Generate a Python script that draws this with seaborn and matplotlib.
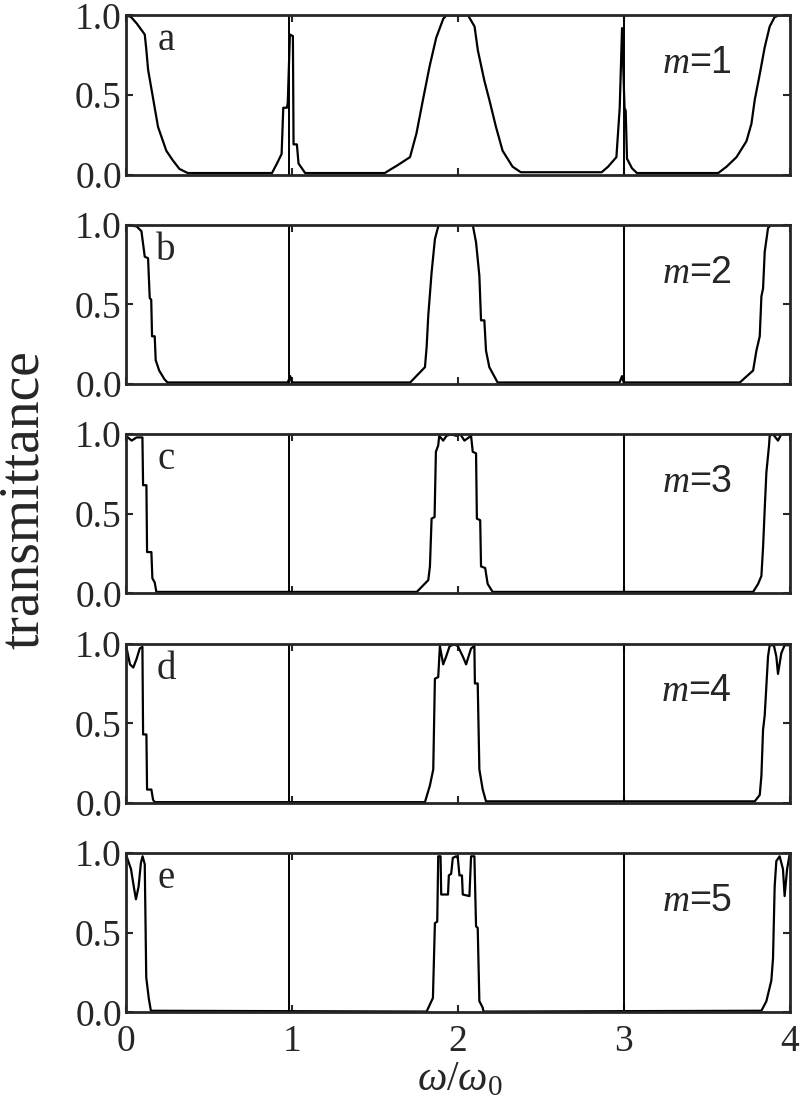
import matplotlib
matplotlib.use("Agg")
import matplotlib.pyplot as plt
import seaborn as sns
import pandas as pd

# frequency (omega/omega0) and transmittance
omega_a = [0, 0.03, 0.064, 0.113, 0.123, 0.133, 0.153, 0.173, 0.193, 0.223, 0.243, 0.282, 0.322, 0.372,
           0.88, 0.91, 0.938, 0.948, 0.97, 0.975, 0.988, 1.006, 1.01, 1.03, 1.04, 1.08,
           1.56, 1.60, 1.634, 1.712, 1.751, 1.79, 1.83, 1.87, 1.913, 1.932, 2.062, 2.101, 2.121, 2.16, 2.19,
           2.23, 2.27, 2.33, 2.38, 2.867, 2.906, 2.956, 2.976, 2.99, 3.005, 3.012, 3.02, 3.05, 3.08,
           3.57, 3.62, 3.68, 3.74, 3.77, 3.79, 3.82, 3.85, 3.88, 3.91, 3.94, 4.0]
trans_a = [1.0, 0.99, 0.95, 0.88, 0.78, 0.66, 0.54, 0.42, 0.30, 0.21, 0.15, 0.09, 0.036, 0.01,
           0.01, 0.07, 0.13, 0.42, 0.42, 0.45, 0.88, 0.87, 0.19, 0.19, 0.07, 0.01,
           0.01, 0.036, 0.057, 0.11, 0.26, 0.47, 0.68, 0.86, 0.98, 1.0, 1.0, 0.93, 0.78, 0.59, 0.47,
           0.30, 0.15, 0.05, 0.015, 0.015, 0.05, 0.11, 0.42, 0.92, 0.42, 0.40, 0.10, 0.04, 0.01,
           0.01, 0.05, 0.11, 0.21, 0.32, 0.47, 0.63, 0.80, 0.93, 0.99, 1.0, 1.0]

omega_b = [0, 0.064, 0.093, 0.113, 0.133, 0.143, 0.152, 0.157, 0.173, 0.179, 0.20, 0.232, 0.25,
           0.975, 0.99, 1.0, 1.713, 1.802, 1.812, 1.822, 1.842, 1.862, 1.882, 1.888, 2.09, 2.11,
           2.13, 2.14, 2.16, 2.17, 2.19, 2.24, 2.975, 2.99, 3.0, 3.70, 3.78, 3.80, 3.82, 3.83,
           3.84, 3.85, 3.87, 3.89, 4.0]
trans_b = [1.0, 0.99, 0.96, 0.80, 0.79, 0.54, 0.53, 0.30, 0.30, 0.15, 0.085, 0.03, 0.01,
           0.01, 0.05, 0.01, 0.01, 0.106, 0.23, 0.43, 0.70, 0.91, 0.99, 1.0, 1.0, 0.89,
           0.68, 0.40, 0.40, 0.21, 0.106, 0.01, 0.01, 0.05, 0.01, 0.01, 0.085, 0.21, 0.30, 0.55,
           0.60, 0.83, 0.98, 1.0, 1.0]

omega_c = [0, 0.034, 0.064, 0.099, 0.103, 0.123, 0.127, 0.153, 0.159, 0.173, 0.183,
           1.753, 1.822, 1.832, 1.842, 1.86, 1.868, 1.882, 1.888, 1.912, 1.932, 1.96, 1.99, 2.015,
           2.04, 2.08, 2.09, 2.11, 2.115, 2.135, 2.14, 2.165, 2.18, 2.21,
           3.78, 3.81, 3.83, 3.84, 3.85, 3.86, 3.876, 3.88, 3.90, 3.93, 3.95, 4.0]
trans_c = [0.99, 0.96, 0.98, 0.98, 0.68, 0.68, 0.26, 0.26, 0.095, 0.07, 0.01,
           0.01, 0.084, 0.17, 0.47, 0.48, 0.89, 0.93, 0.99, 0.96, 0.99, 1.0, 0.99, 1.0,
           0.96, 0.99, 0.89, 0.88, 0.47, 0.46, 0.17, 0.16, 0.06, 0.01,
           0.01, 0.06, 0.11, 0.29, 0.53, 0.76, 0.93, 0.99, 1.0, 0.96, 1.0, 1.0]

omega_d = [0, 0.024, 0.044, 0.064, 0.083, 0.099, 0.103, 0.123, 0.127, 0.153, 0.163, 0.173,
           1.802, 1.832, 1.852, 1.862, 1.882, 1.892, 1.912, 1.93, 1.951, 1.98, 2.00, 2.03, 2.05,
           2.08, 2.10, 2.103, 2.12, 2.13, 2.15, 2.17,
           3.79, 3.82, 3.83, 3.84, 3.85, 3.87, 3.88, 3.905, 3.92, 3.93, 3.95, 3.97, 4.0]
trans_d = [0.99, 0.87, 0.85, 0.905, 0.97, 0.98, 0.43, 0.43, 0.084, 0.084, 0.02, 0.005,
           0.005, 0.11, 0.21, 0.78, 0.79, 0.985, 0.87, 0.92, 0.985, 0.995, 0.985, 0.92, 0.87,
           0.97, 0.985, 0.75, 0.75, 0.21, 0.085, 0.01,
           0.01, 0.05, 0.17, 0.46, 0.55, 0.92, 0.99, 0.99, 0.92, 0.81, 0.94, 0.99, 0.99]

omega_e = [0, 0.03, 0.05, 0.06, 0.076, 0.09, 0.10, 0.113, 0.122, 0.137, 0.15,
           1.812, 1.832, 1.85, 1.862, 1.876, 1.882, 1.896, 1.90, 1.941, 1.946, 1.96, 1.97, 1.99,
           2.00, 2.01, 2.025, 2.03, 2.07, 2.08, 2.10, 2.11, 2.12, 2.13, 2.15, 2.155,
           3.83, 3.86, 3.89, 3.90, 3.91, 3.92, 3.94, 3.96, 3.97, 3.985, 4.0]
trans_e = [0.99, 0.90, 0.77, 0.71, 0.79, 0.94, 0.98, 0.93, 0.22, 0.09, 0.01,
           0.005, 0.05, 0.09, 0.56, 0.57, 0.98, 0.98, 0.74, 0.74, 0.86, 0.87, 0.97, 0.98,
           0.97, 0.86, 0.86, 0.74, 0.73, 0.98, 0.98, 0.54, 0.53, 0.07, 0.03, 0.005,
           0.01, 0.07, 0.20, 0.34, 0.79, 0.95, 0.98, 0.90, 0.73, 0.90, 0.99]

# narrow resonances drawn as full-height lines
resonances = [0.98, 3.0]

panels = [("a", 1, omega_a, trans_a), ("b", 2, omega_b, trans_b), ("c", 3, omega_c, trans_c),
          ("d", 4, omega_d, trans_d), ("e", 5, omega_e, trans_e)]

sns.set_style("ticks")
plt.rcParams["font.family"] = ["Liberation Serif", "DejaVu Serif"]
plt.rcParams["mathtext.fontset"] = "custom"
plt.rcParams["mathtext.rm"] = "Liberation Serif"
plt.rcParams["mathtext.it"] = "Liberation Serif:italic"

fig, axes = plt.subplots(5, 1, figsize=(8, 10.98), dpi=100, sharex=True)
fig.subplots_adjust(left=0.1575, right=0.987, top=0.986, bottom=0.078, hspace=0.315)

for ax, (letter, m, om, tr) in zip(axes, panels):
    df = pd.DataFrame({"omega": om, "T": tr})
    sns.lineplot(data=df, x="omega", y="T", ax=ax, color="black", lw=1.6,
                 estimator=None, sort=False)
    for r in resonances:
        ax.axvline(r, color="black", lw=1.4)
    ax.set_xlim(0, 4)
    ax.set_ylim(0, 1)
    ax.set_yticks([0, 0.5, 1.0])
    ax.set_yticklabels(["0.0", "0.5", "1.0"])
    ax.set_xticks([0, 1, 2, 3, 4])
    ax.set_xlabel("")
    ax.set_ylabel("")
    ax.tick_params(direction="in", top=True, right=True, length=5, width=1.5,
                   labelsize=27, pad=3)
    for sp in ax.spines.values():
        sp.set_linewidth(2)
    ax.text(0.06, 0.84, letter, transform=ax.transAxes, fontsize=28,
            ha="center", va="center")
    ax.text(0.86, 0.70, "$m$=%d" % m, transform=ax.transAxes, fontsize=27,
            ha="center", va="center", family=["Liberation Sans"])

axes[-1].tick_params(axis="x", pad=9)
fig.text(0.575, 0.016, r"$\omega/\omega_0$", ha="center", va="center", fontsize=30)
fig.text(0.03, 0.545, "transmittance", rotation=90, ha="center", va="center", fontsize=40)

fig.savefig("out.png", dpi=100)
